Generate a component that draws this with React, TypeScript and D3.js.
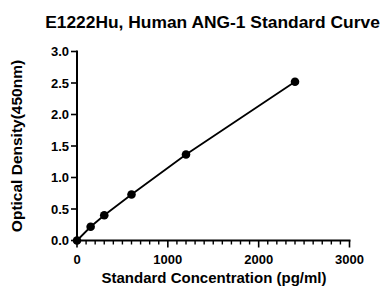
import * as d3 from 'd3'

// standard curve points
const concentrations = [0, 150, 300, 600, 1200, 2400]
const densities = [0, 0.218, 0.4, 0.73, 1.364, 2.52]
const xTicks = [0, 1000, 2000, 3000]
const yTicks = [0, 0.5, 1.0, 1.5, 2.0, 2.5, 3.0]

const W = 382
const H = 289
const margin = { left: 77, right: 32.5, top: 51.5, bottom: 48.5 }
const font = 'Liberation Sans, Arial, sans-serif'

const App = () => {
  const x = d3.scaleLinear().domain([0, 3000]).range([margin.left, W - margin.right])
  const y = d3.scaleLinear().domain([0, 3]).range([H - margin.bottom, margin.top])
  const minor = d3.range(100, 3000, 100).filter((v) => v % 1000 !== 0)
  const line = d3
    .line<number>()
    .x((_, i) => x(concentrations[i]))
    .y((d) => y(d))

  const y0 = y(0)
  const x0 = x(0)

  return (
    <svg width={W} height={H} style={{ position: 'absolute', left: 0, top: 0 }}>
      <text x={212.5} y={28} textAnchor="middle" fontFamily={font} fontWeight="bold" fontSize={17.4}>
        E1222Hu, Human ANG-1 Standard Curve
      </text>

      {/* y axis */}
      <line x1={x0} x2={x0} y1={y(3) - 1} y2={y0} stroke="black" strokeWidth={2} />
      {yTicks.map((t) => (
        <g key={t}>
          <line x1={x0 - 6} x2={x0} y1={y(t)} y2={y(t)} stroke="black" strokeWidth={1.6} />
          <text x={x0 - 8} y={y(t)} dy="0.36em" textAnchor="end" fontFamily={font} fontWeight="bold" fontSize={13}>
            {d3.format('.1f')(t)}
          </text>
        </g>
      ))}

      {/* x axis */}
      <line x1={x0} x2={x(3000) + 1} y1={y0} y2={y0} stroke="black" strokeWidth={2} />
      {minor.map((t) => (
        <line key={t} x1={x(t)} x2={x(t)} y1={y0} y2={y0 + 4} stroke="black" strokeWidth={1.4} />
      ))}
      {xTicks.map((t) => (
        <g key={t}>
          <line x1={x(t)} x2={x(t)} y1={y0} y2={y0 + 7} stroke="black" strokeWidth={1.6} />
          <text x={x(t)} y={y0 + 23.5} textAnchor="middle" fontFamily={font} fontWeight="bold" fontSize={13}>
            {t}
          </text>
        </g>
      ))}

      <text x={214} y={283} textAnchor="middle" fontFamily={font} fontWeight="bold" fontSize={15}>
        Standard Concentration (pg/ml)
      </text>
      <text
        transform={`translate(22,${(y(3) + y0) / 2}) rotate(-90)`}
        textAnchor="middle"
        fontFamily={font}
        fontWeight="bold"
        fontSize={15.5}
      >
        Optical Density(450nm)
      </text>

      <path d={line(densities) ?? ''} fill="none" stroke="black" strokeWidth={1.8} />
      {densities.map((d, i) => (
        <circle key={i} cx={x(concentrations[i])} cy={y(d)} r={4.3} fill="black" />
      ))}
    </svg>
  )
}

export default App
